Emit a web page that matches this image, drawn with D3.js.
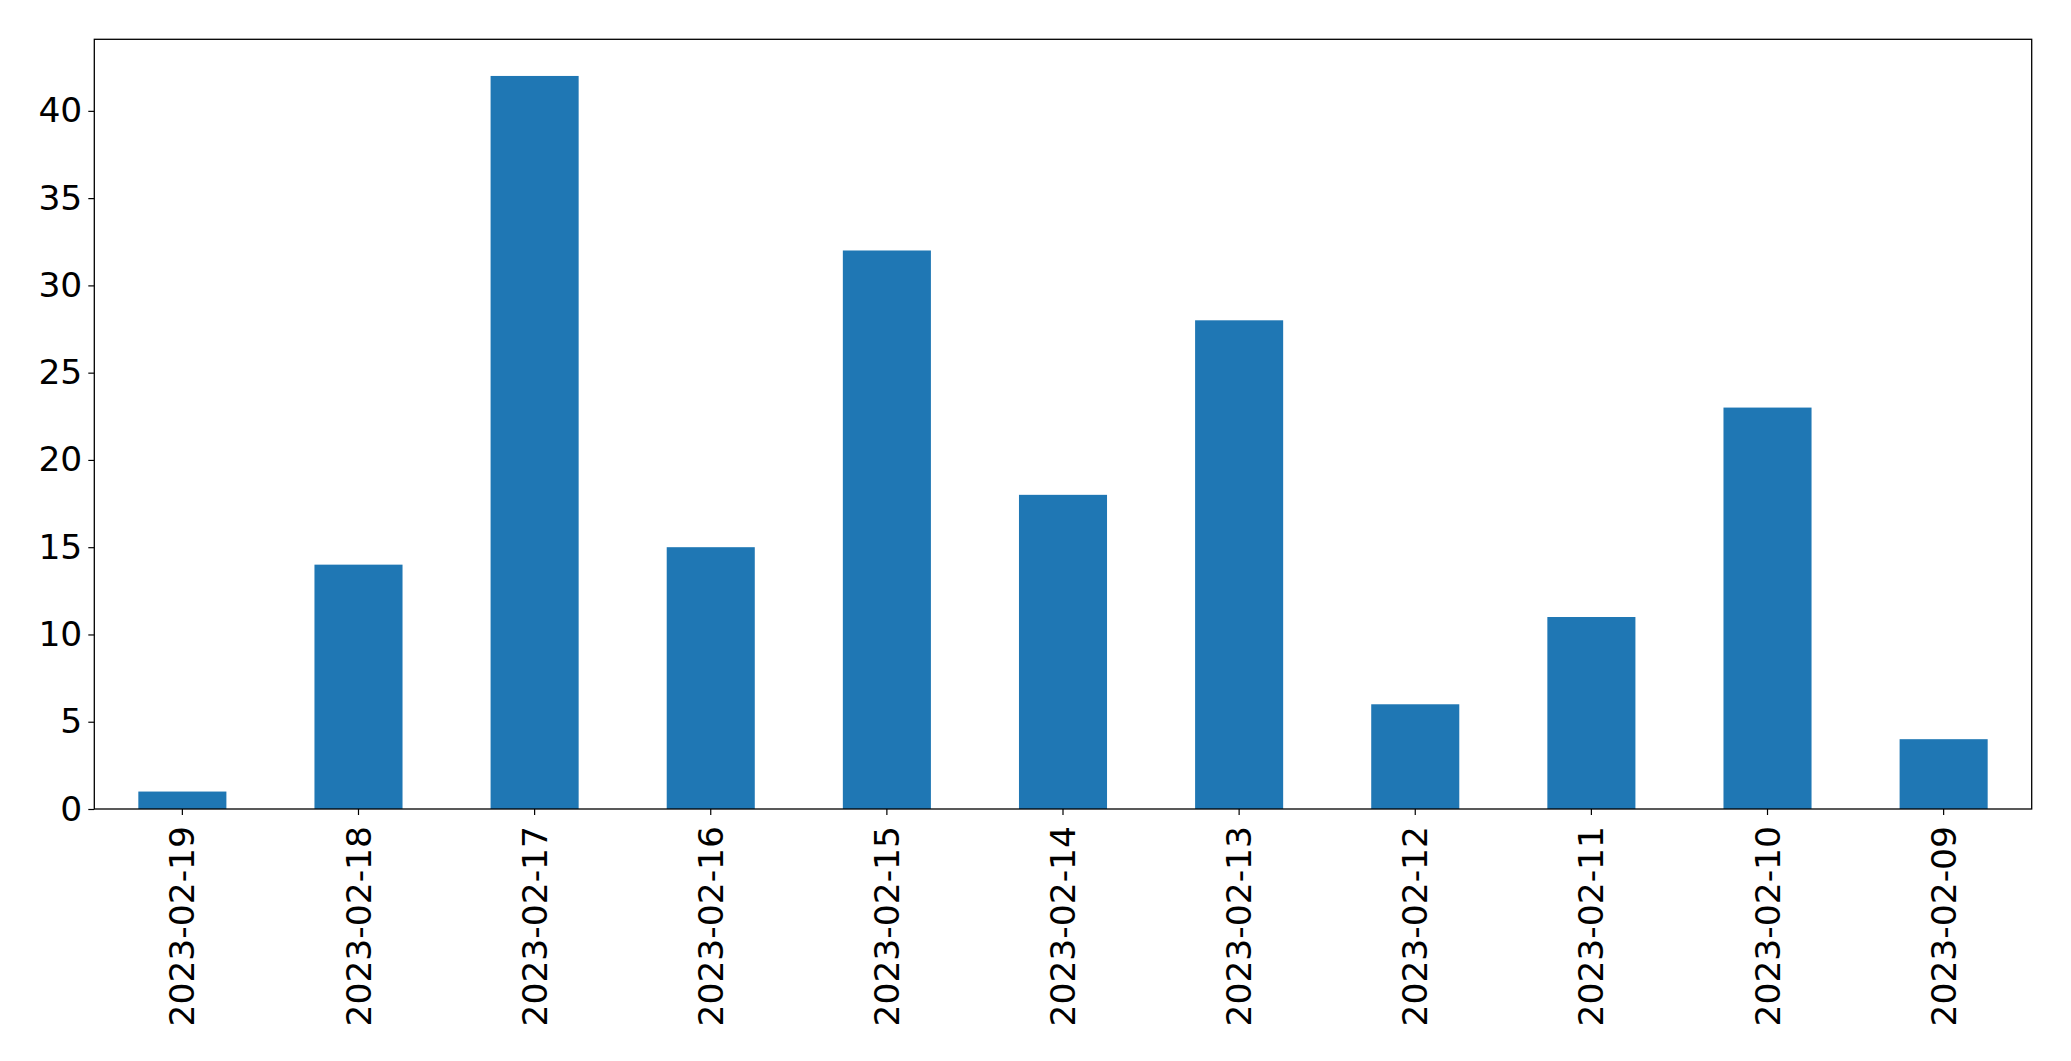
<!DOCTYPE html>
<html>
<head>
<meta charset="utf-8">
<script src="https://cdn.jsdelivr.net/npm/d3@7"></script>
<style>
  html, body { margin: 0; padding: 0; background: #fff; }
  svg { display: block; }
  text { font-family: "DejaVu Sans", sans-serif; }
</style>
</head>
<body>
<svg id="chart" width="2071" height="1061"></svg>
<script>
const categories = ["2023-02-19","2023-02-18","2023-02-17","2023-02-16","2023-02-15","2023-02-14","2023-02-13","2023-02-12","2023-02-11","2023-02-10","2023-02-09"];
const values = [1, 14, 42, 15, 32, 18, 28, 6, 11, 23, 4];
const yTicks = [0, 5, 10, 15, 20, 25, 30, 35, 40];

const W = 2071, H = 1061;
const margin = { left: 94.3, right: W - 2031.7, top: 39.3, bottom: H - 809 };
const iw = W - margin.left - margin.right;
const ih = H - margin.top - margin.bottom;

const svg = d3.select("#chart");
const g = svg.append("g").attr("transform", `translate(${margin.left},${margin.top})`);

const x = d3.scaleBand().domain(categories).range([0, iw]).paddingInner(0.5).paddingOuter(0.25);
const y = d3.scaleLinear().domain([0, d3.max(values) * 1.05]).range([ih, 0]);

g.selectAll("rect.bar")
  .data(categories.map((c, i) => ({ c, v: values[i] })))
  .join("rect")
  .attr("class", "bar")
  .attr("x", d => x(d.c))
  .attr("width", x.bandwidth())
  .attr("y", d => y(d.v))
  .attr("height", d => ih - y(d.v))
  .attr("fill", "#1f77b4");

const fs = 34.5;
const yAxis = g.append("g")
  .call(d3.axisLeft(y).tickValues(yTicks).tickSize(6).tickPadding(6).tickFormat(d3.format("d")));
yAxis.select(".domain").remove();
yAxis.selectAll("text").attr("font-size", fs).attr("fill", "#000").attr("font-family", "DejaVu Sans");
yAxis.selectAll("line").attr("stroke", "#000").attr("stroke-width", 1.2);

const xAxis = g.append("g").attr("transform", `translate(0,${ih})`)
  .call(d3.axisBottom(x).tickSize(6).tickPadding(6));
xAxis.select(".domain").remove();
xAxis.selectAll("line").attr("stroke", "#000").attr("stroke-width", 1.2);
xAxis.selectAll("text")
  .attr("font-size", fs).attr("fill", "#000").attr("font-family", "DejaVu Sans")
  .attr("text-anchor", "end")
  .attr("transform", "rotate(-90)")
  .attr("x", -17)
  .attr("y", 0)
  .attr("dy", "0.35em");

g.append("rect")
  .attr("x", 0).attr("y", 0).attr("width", iw).attr("height", ih)
  .attr("fill", "none").attr("stroke", "#000").attr("stroke-width", 1.3);
</script>
</body>
</html>
